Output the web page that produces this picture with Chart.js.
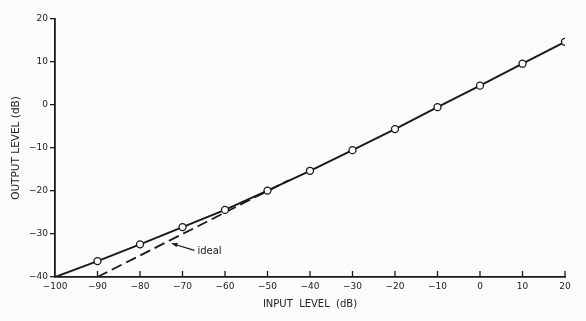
<!DOCTYPE html>
<html>
<head>
<meta charset="utf-8">
<script src="https://cdn.jsdelivr.net/npm/chart.js@4"></script>
<style>
  html, body { margin: 0; padding: 0; background: #fbfbf9; }
  #wrap { width: 586px; height: 321px; }
</style>
</head>
<body>
<div id="wrap"><canvas id="chart"></canvas></div>
<script>
// measured curve
const inputLevel = [-100, -90, -80, -70, -60, -50, -40, -30, -20, -10, 0, 10, 20];
const outputLevel = [-40, -36.3, -32.4, -28.4, -24.4, -19.9, -15.3, -10.5, -5.6, -0.5, 4.5, 9.6, 14.7];
// ideal (dashed) line
const idealInput = [-90, -45];
const idealOutput = [-40, -17.5];
const xTicks = [-100, -90, -80, -70, -60, -50, -40, -30, -20, -10, 0, 10, 20];
const yTicks = [-40, -30, -20, -10, 0, 10, 20];

const ink = '#1a1a1a';
const minus = v => String(v).replace('-', '\u2212');

// x ticks on this plot point up into the plot, so draw them by hand
const innerTicks = {
  id: 'innerTicks',
  afterDraw(chart) {
    const ctx = chart.ctx, xs = chart.scales.x, y0 = chart.chartArea.bottom;
    ctx.save();
    ctx.strokeStyle = ink;
    ctx.lineWidth = 1.3;
    xTicks.forEach(t => {
      if (t === xTicks[0]) return;
      const px = xs.getPixelForValue(t);
      ctx.beginPath();
      ctx.moveTo(px, y0);
      ctx.lineTo(px, y0 - 6);
      ctx.stroke();
    });
    // "ideal" label with arrow pointing at the dashed line
    const ys = chart.scales.y;
    const tipX = xs.getPixelForValue(-72.5), tipY = ys.getPixelForValue(-32.2);
    const tailX = xs.getPixelForValue(-67.2), tailY = ys.getPixelForValue(-33.8);
    ctx.lineWidth = 1.2;
    ctx.beginPath();
    ctx.moveTo(tailX, tailY);
    ctx.lineTo(tipX, tipY);
    ctx.stroke();
    const ang = Math.atan2(tipY - tailY, tipX - tailX);
    ctx.fillStyle = ink;
    ctx.beginPath();
    ctx.moveTo(tipX, tipY);
    ctx.lineTo(tipX - 6 * Math.cos(ang - 0.4), tipY - 6 * Math.sin(ang - 0.4));
    ctx.lineTo(tipX - 6 * Math.cos(ang + 0.4), tipY - 6 * Math.sin(ang + 0.4));
    ctx.closePath();
    ctx.fill();
    ctx.font = '10px "DejaVu Sans"';
    ctx.textBaseline = 'middle';
    ctx.fillText('ideal', tailX + 3, tailY + 1);
    ctx.restore();
  }
};

new Chart(document.getElementById('chart'), {
  type: 'scatter',
  data: {
    datasets: [{
      label: 'measured',
      data: inputLevel.map((x, i) => ({ x: x, y: outputLevel[i] })),
      showLine: true,
      borderColor: ink,
      borderWidth: 2,
      pointRadius: inputLevel.map((x, i) => i === 0 ? 0 : 3.5),
      pointBackgroundColor: '#fbfbf9',
      pointBorderColor: ink,
      pointBorderWidth: 1.3
    }, {
      label: 'ideal',
      data: idealInput.map((x, i) => ({ x: x, y: idealOutput[i] })),
      showLine: true,
      borderColor: ink,
      borderWidth: 1.8,
      borderDash: [11, 5],
      pointRadius: 0
    }]
  },
  options: {
    responsive: true,
    maintainAspectRatio: false,
    animation: false,
    layout: { padding: { left: 0, right: 21, top: 19, bottom: 0 } },
    plugins: { legend: { display: false }, tooltip: { enabled: false } },
    scales: {
      x: {
        type: 'linear',
        min: -100, max: 20,
        afterBuildTicks: s => { s.ticks = xTicks.map(v => ({ value: v })); },
        afterFit: s => { s.height = 44; },
        border: { color: ink, width: 1.8 },
        grid: { drawOnChartArea: false, drawTicks: false },
        ticks: {
          color: '#222', padding: 4,
          font: { family: 'DejaVu Sans', size: 9 },
          maxRotation: 0, autoSkip: false,
          callback: v => minus(v)
        },
        title: {
          display: true, text: 'INPUT  LEVEL  (dB)', color: '#222',
          font: { family: 'DejaVu Sans', size: 10 },
          padding: { top: 0, bottom: 11 }
        }
      },
      y: {
        min: -40, max: 20,
        afterBuildTicks: s => { s.ticks = yTicks.map(v => ({ value: v })); },
        afterFit: s => { s.width = 55; },
        border: { color: ink, width: 1.8 },
        grid: { drawOnChartArea: false, tickLength: 5, color: ink, lineWidth: 1.3 },
        ticks: {
          color: '#222', padding: 2,
          font: { family: 'DejaVu Sans', size: 9 },
          callback: v => minus(v)
        },
        title: {
          display: true, text: 'OUTPUT LEVEL (dB)', color: '#222',
          font: { family: 'DejaVu Sans', size: 10.5 },
          padding: { top: 10, bottom: 0 }
        }
      }
    }
  },
  plugins: [innerTicks]
});
</script>
</body>
</html>
